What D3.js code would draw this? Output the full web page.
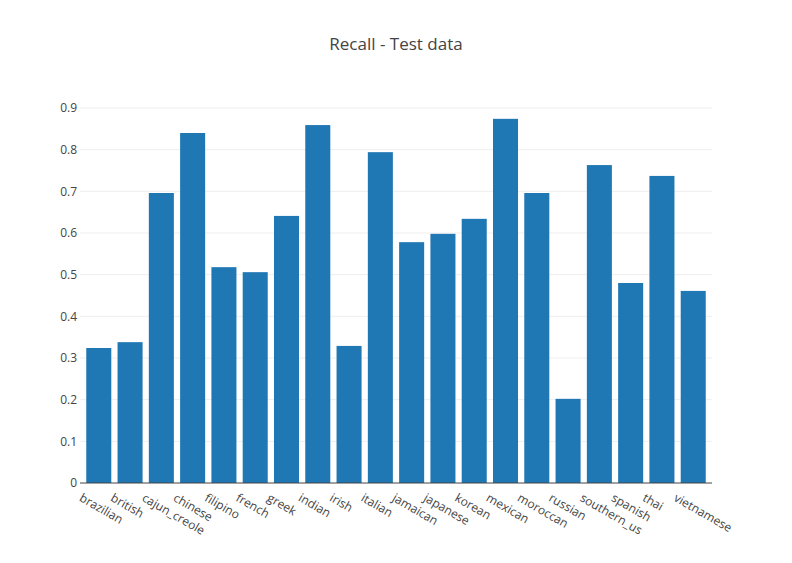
<!DOCTYPE html>
<html><head><meta charset="utf-8">
<script src="https://cdn.jsdelivr.net/npm/d3@7"></script>
<style>body{margin:0;background:#fff;font-family:"Open Sans",sans-serif;}</style>
</head><body><svg id="c" width="792" height="563"></svg>
<script>
const categories=["brazilian","british","cajun_creole","chinese","filipino","french","greek","indian","irish","italian","jamaican","japanese","korean","mexican","moroccan","russian","southern_us","spanish","thai","vietnamese"];
const recall=[0.324,0.338,0.696,0.840,0.518,0.506,0.641,0.859,0.329,0.794,0.578,0.598,0.634,0.874,0.696,0.202,0.763,0.480,0.737,0.461];
const yTicks=[0,0.1,0.2,0.3,0.4,0.5,0.6,0.7,0.8,0.9];
const svg=d3.select("#c");
const L=80,R=712,T=100,B=483;
const x=d3.scaleBand().domain(categories).range([L,R]).padding(0.2);
const y=d3.scaleLinear().domain([0,0.92]).range([B,B-0.92*(B-108)/0.9]);
svg.append("g").selectAll("line").data(yTicks.slice(1)).join("line")
 .attr("x1",L).attr("x2",R).attr("y1",d=>y(d)).attr("y2",d=>y(d)).attr("stroke","#eee");
svg.append("g").selectAll("text").data(yTicks).join("text")
 .attr("x",L-3).attr("y",d=>y(d)).attr("dy","0.35em").attr("text-anchor","end")
 .attr("font-size",12).attr("fill","#444").text(d=>d===0?"0":d3.format(".1f")(d));
svg.append("g").selectAll("rect").data(categories).join("rect")
 .attr("x",d=>x(d)).attr("width",x.bandwidth())
 .attr("y",(d,i)=>y(recall[i])).attr("height",(d,i)=>B-y(recall[i])).attr("fill","#1f77b4");
svg.append("line").attr("x1",L).attr("x2",R).attr("y1",B).attr("y2",B).attr("stroke","#444");
svg.append("g").selectAll("text").data(categories).join("text")
 .attr("transform",d=>`translate(${x(d)+x.bandwidth()/2-16},${B+10}) rotate(30)`)
 .attr("dy","0.7em").attr("font-size",12).attr("fill","#444").text(d=>d);
svg.append("text").attr("x",396).attr("y",50).attr("text-anchor","middle")
 .attr("font-size",17).attr("fill","#444").text("Recall - Test data");
</script></body></html>
